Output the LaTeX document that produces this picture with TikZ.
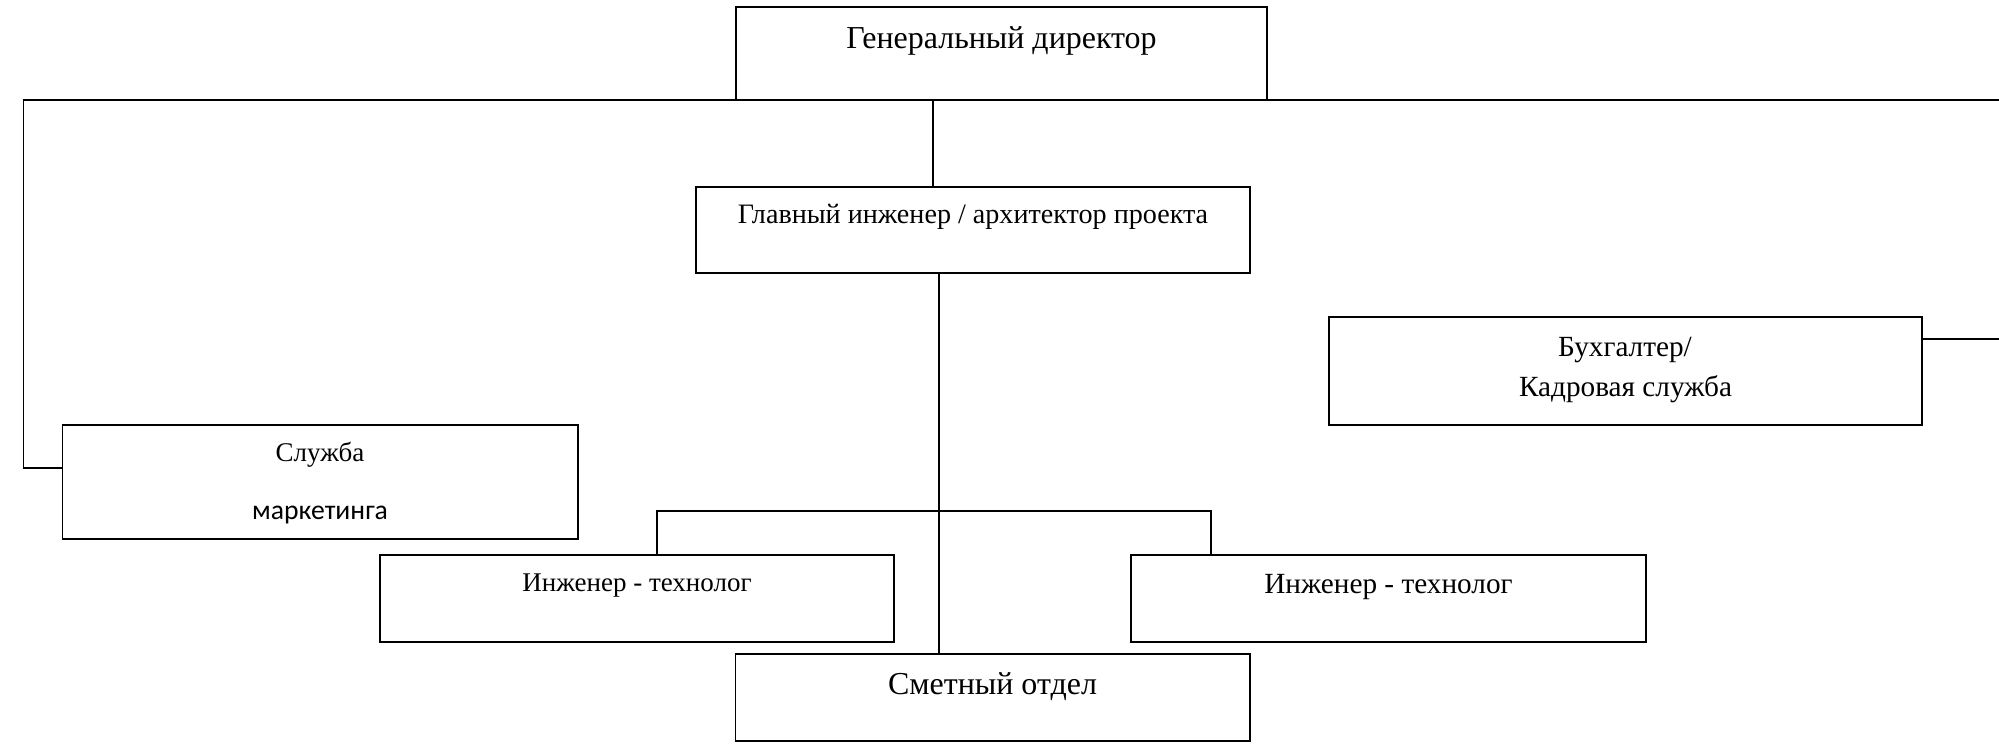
\documentclass[tikz,border=0pt]{standalone}
\usepackage{fontspec}
\setmainfont{Liberation Serif}
\newfontfamily\calfont{Carlito}
\usetikzlibrary{fit}
\tikzset{
  box/.style={draw=black, line width=0.85pt, inner sep=0pt, outer sep=0pt, fill=none},
  conn/.style={draw=black, line width=0.65pt},
  lbl/.style={anchor=base, inner sep=0pt, outer sep=0pt, text=black},
  fxiv/.style={font=\fontsize{14.2}{16}\selectfont},
  fxiii/.style={font=\fontsize{13}{15}\selectfont},
  fxii/.style={font=\fontsize{12}{14}\selectfont},
  fglav/.style={font=\fontsize{12.5}{14}\selectfont},
  fcal/.style={font=\calfont\fontsize{12.3}{14}\selectfont}
}
\begin{document}
\begin{tikzpicture}[x=0.4444pt, y=-0.4444pt]
\useasboundingbox (0,0) rectangle (1999,749);

% boxes
\node[box, fit={(736,7) (1267,100)}] (gen) {};
\node[box, fit={(696,187) (1250,273)}] (glav) {};
\node[box, fit={(62.5,425) (578,539)}] (sl) {};
\node[box, fit={(1329,317) (1922,425)}] (buh) {};
\node[box, fit={(380,555) (894,642)}] (ing1) {};
\node[box, fit={(1131,555) (1646,642)}] (ing2) {};
\node[box, fit={(735.5,654) (1250,741)}] (smet) {};

% texts
\node[lbl, fxiv] (tgen) at (1001.5,48) {Генеральный директор};
\node[lbl, fglav] (tglav) at (973,223) {Главный инженер / архитектор проекта};
\node[lbl, fxii] (tsl1) at (320,461) {Служба};
\node[lbl, fcal] (tsl2) at (320,519) {маркетинга};
\node[lbl, fxiii] (tbuh1) at (1625,356.5) {Бухгалтер/};
\node[lbl, fxiii] (tbuh2) at (1625.5,396.5) {Кадровая служба};
\node[lbl, fxii] (ting1) at (637,591) {Инженер - технолог};
\node[lbl, fxiii] (ting2) at (1388.5,593) {Инженер - технолог};
\node[lbl, fxiv] (tsmet) at (992.5,694) {Сметный отдел};

% connector coordinates
\coordinate (hl) at (23.6,100);
\coordinate (hr) at (1999,100);
\coordinate (slin) at (62.5,468);
\coordinate (tap) at (933,100);
\coordinate (trunk) at (939,511);
\coordinate (b1) at (657,511);
\coordinate (b2) at (1211,511);
\coordinate (rb) at (1999,339);

% connectors
\draw[conn] (hr) -- (hl) |- (sl.west |- slin);
\draw[conn] (tap) -- (tap |- glav.north);
\draw[conn] (trunk |- glav.south) -- (trunk |- smet.north);
\draw[conn] (b1 |- ing1.north) -- (b1) -- (b2) -- (b2 |- ing2.north);
\draw[conn] (buh.east |- rb) -- (rb);
\end{tikzpicture}
\end{document}
